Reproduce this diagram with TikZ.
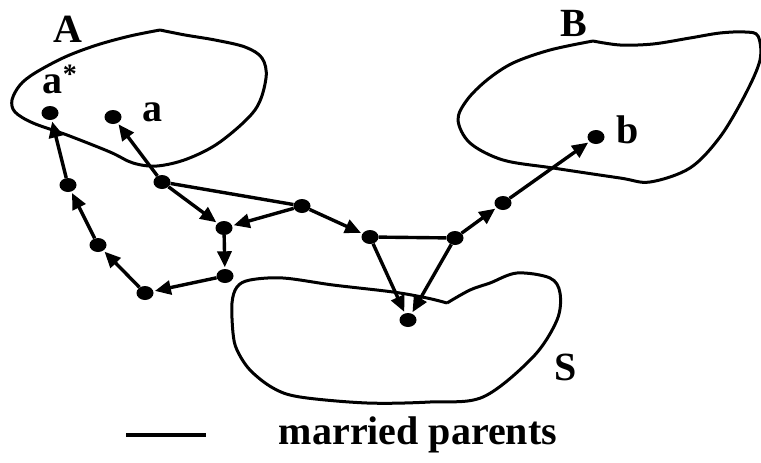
\documentclass[tikz,border=0pt]{standalone}
\usepackage{fontspec}
\setmainfont{Liberation Serif}
\usetikzlibrary{arrows.meta,shapes.geometric}
\begin{document}
\begin{tikzpicture}[x=1pt,y=-1pt,
  dot/.style={ellipse,fill=black,inner sep=0pt,minimum width=17pt,minimum height=14pt},
  blob/.style={line width=3pt,line join=round},
  edge/.style={line width=3.4pt},
  arr/.style={edge,-{Triangle[length=16pt,width=14pt]},shorten >=1.5pt},
  lbl/.style={font=\fontsize{40}{44}\selectfont\bfseries,inner sep=0pt,anchor=base},
  small/.style={font=\fontsize{40}{44}\selectfont\bfseries,inner sep=0pt,anchor=base}]
\useasboundingbox (0,0) rectangle (761,463);
% regions
\draw[blob] plot[smooth,tension=0.55] coordinates {(160,30) (185,35) (215,40) (245,47) (262,58) (266,78) (255,110) (220,142) (187,159) (157,166) (133,163) (110,152) (67,135) (33,123) (15,112) (12,100) (20,85) (35,73) (65,57) (97,45) (130,36) (160,30)};
\draw[blob] plot[smooth,tension=0.55] coordinates {(593,41) (620,45) (653,44) (690,38) (720,33) (745,32) (758,36) (760,60) (745,95) (720,137) (690,168) (650,182) (620,178) (553,168) (503,160) (470,143) (458,120) (467,100) (487,80) (513,63) (550,50) (593,41)};
\draw[blob] plot[smooth,tension=0.55] coordinates {(447,303) (470,290) (490,283) (517,273) (550,278) (560,293) (557,320) (533,357) (483,397) (430,402) (367,403) (300,397) (273,388) (250,370) (237,350) (233,333) (232,303) (237,287) (250,280) (283,278) (333,285) (393,292) (427,298) (447,303)};
% nodes
\node[dot] (as) at (50,113) {};
\node[dot] (a) at (113,117) {};
\node[dot] (n1) at (162,182) {};
\node[dot] (n2) at (68,185) {};
\node[dot] (n3) at (98,245) {};
\node[dot] (n4) at (145,293) {};
\node[dot] (n5) at (224,228) {};
\node[dot] (n6) at (225,276) {};
\node[dot] (n7) at (302,206) {};
\node[dot] (n8) at (370,237) {};
\node[dot] (n9) at (455,238) {};
\node[dot] (n10) at (503,203) {};
\node[dot] (b) at (596,137) {};
\node[dot] (s) at (408,320) {};
% connectors
\draw[edge] (n1) -- (n7);
\draw[edge] (n8) -- (n9);
\draw[arr] (n1) -- (a);
\draw[arr] (n1) -- (n5);
\draw[arr] (n7) -- (n5);
\draw[arr] (n5) -- (n6);
\draw[arr] (n6) -- (n4);
\draw[arr] (n4) -- (n3);
\draw[arr] (n3) -- (n2);
\draw[arr] (n2) -- (as);
\draw[arr] (n7) -- (n8);
\draw[arr] (n8) -- (s);
\draw[arr] (n9) -- (s);
\draw[arr] (n9) -- (n10);
\draw[arr] (n10) -- (b);
% labels
\node[lbl] (lA) at (68,42) {A};
\node[lbl] (lB) at (574,36) {B};
\node[lbl] (lS) at (566,380) {S};
\node[small] (las) at (60,93) {a\textsuperscript{*}};
\node[small] (la) at (152,121) {a};
\node[small] (lb) at (628,143) {b};
% legend
\coordinate (l1) at (126,435);
\coordinate (l2) at (206,435);
\draw[line width=3.5pt] (l1) -- (l2);
\node[font=\fontsize{40}{44}\selectfont\bfseries,inner sep=0pt,anchor=base] (leg) at (418,444) {married parents};
\end{tikzpicture}
\end{document}
